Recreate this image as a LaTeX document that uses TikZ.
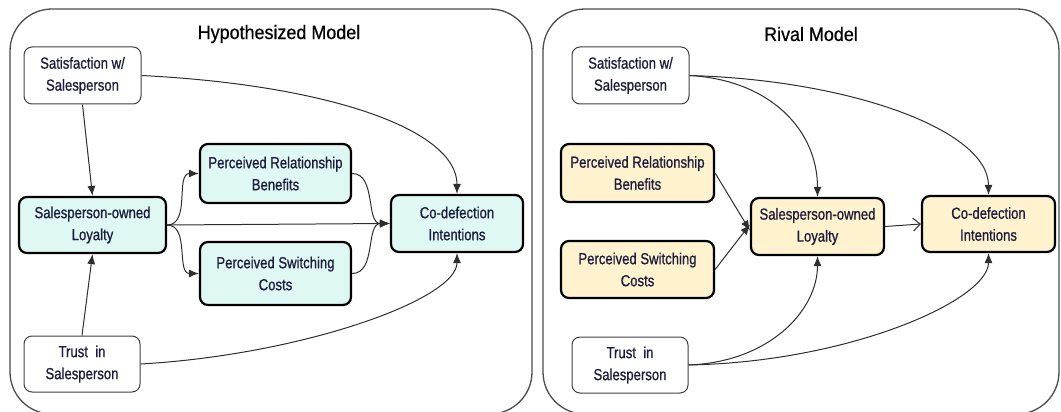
\documentclass[tikz,border=0pt]{standalone}
\usepackage{fontspec}
\setmainfont{Liberation Sans}
\newfontfamily\boxfont[FakeStretch=0.82,FakeBold=0.8]{Liberation Sans}
\newfontfamily\headfont[FakeStretch=0.92,FakeBold=0.6]{Liberation Sans}
\usetikzlibrary{arrows.meta}
\definecolor{mint}{HTML}{E0F8F3}
\definecolor{cream}{HTML}{FFF2CF}
\definecolor{inkc}{HTML}{1C1C3C}
\definecolor{linec}{HTML}{2E2E2E}
\begin{document}
\begin{tikzpicture}[x=1pt,y=-1pt,
  panel/.style={draw=black!70,line width=1.3pt,rounded corners=42pt},
  heading/.style={font=\headfont\fontsize{19.5}{22}\selectfont,text=black},
  basebox/.style={rounded corners=8pt,align=center,inner sep=0pt,text=inkc,
    font=\boxfont\fontsize{16}{22}\selectfont},
  plainbox/.style={basebox,draw=black!75,line width=1pt,fill=white},
  mintbox/.style={basebox,draw=black,line width=2.2pt,fill=mint},
  creambox/.style={basebox,draw=black,line width=2.2pt,fill=cream},
  link/.style={draw=linec,line width=1pt,-{Latex[length=10pt,width=8pt]}},
  openlink/.style={draw=linec,line width=1pt,-{Straight Barb[length=7pt,width=13pt]}}]
\useasboundingbox (0,0) rectangle (1061,412);

% two framing panels
\draw[panel] (10,9) rectangle (532,414);
\draw[panel] (543,9) rectangle (1059,414);
\node[heading] (h1) at (279,34) {Hypothesized Model};
\node[heading] (h2) at (811,34) {Rival Model};

% hypothesized model boxes
\node[plainbox,minimum width=117pt,minimum height=57pt] (sat1) at (82.5,75.5) {Satisfaction w/\\Salesperson};
\node[mintbox,minimum width=147pt,minimum height=56pt] (loy1) at (92.5,225) {Salesperson-owned\\Loyalty};
\node[mintbox,minimum width=151pt,minimum height=59pt] (prb1) at (275.5,173.5) {Perceived Relationship\\Benefits};
\node[mintbox,minimum width=151pt,minimum height=63pt] (psc1) at (275.5,273.5) {Perceived Switching\\Costs};
\node[mintbox,minimum width=132pt,minimum height=57pt] (cod1) at (457,223.5) {Co-defection\\Intentions};
\node[plainbox,minimum width=116pt,minimum height=56pt] (tru1) at (82,364) {Trust\ \ in\\Salesperson};

% hypothesized model paths
\draw[link] (sat1.south) -- (loy1.north);
\draw[link] (tru1.north) -- (loy1.south);
\draw[link] (sat1.east) .. controls (330,85) and (457,130) .. (cod1.north);
\draw[link] (tru1.east) .. controls (300,355) and (457,300) .. (cod1.south);
\draw[link] (loy1.east) to[out=0,in=180] (prb1.west);
\draw[link] (loy1.east) to[out=0,in=180] (psc1.west);
\draw[link] (loy1.east) -- (cod1.west);
\draw[link] (prb1.east) to[out=0,in=180] (cod1.west);
\draw[link] (psc1.east) to[out=0,in=180] (cod1.west);

% rival model boxes
\node[plainbox,minimum width=117pt,minimum height=57pt] (sat2) at (630.5,75.5) {Satisfaction w/\\Salesperson};
\node[creambox,minimum width=153pt,minimum height=58pt] (prb2) at (637.5,173) {Perceived Relationship\\Benefits};
\node[creambox,minimum width=153pt,minimum height=57pt] (psc2) at (637.5,269.5) {Perceived Switching\\Costs};
\node[creambox,minimum width=133pt,minimum height=57pt] (loy2) at (817.5,226.5) {Salesperson-owned\\Loyalty};
\node[creambox,minimum width=133pt,minimum height=56pt] (cod2) at (988.5,224) {Co-defection\\Intentions};
\node[plainbox,minimum width=116pt,minimum height=56pt] (tru2) at (630,365) {Trust\ \ in\\Salesperson};

% rival model paths
\draw[link] (sat2.east) .. controls (770,80) and (817.5,130) .. (loy2.north);
\draw[link] (sat2.east) .. controls (850,80) and (988.5,130) .. (cod2.north);
\draw[link] (prb2.east) -- ([yshift=-4pt]loy2.west);
\draw[link] (psc2.east) -- ([yshift=2pt]loy2.west);
\draw[openlink] (loy2.east) -- (cod2.west);
\draw[link] (tru2.east) .. controls (770,362) and (817.5,310) .. (loy2.south);
\draw[link] (tru2.east) .. controls (850,362) and (988.5,300) .. (cod2.south);
\end{tikzpicture}
\end{document}
